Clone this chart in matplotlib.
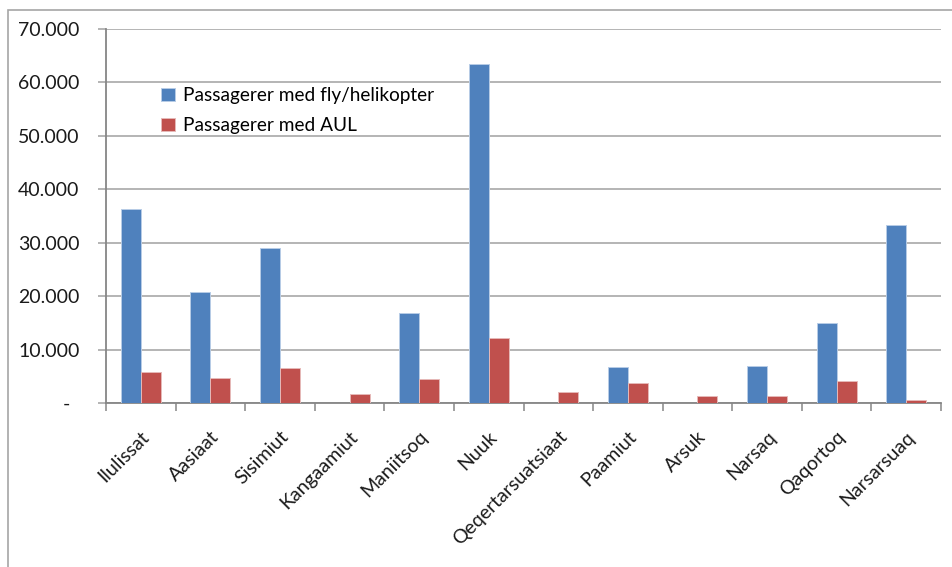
import matplotlib
matplotlib.use("Agg")
import matplotlib.pyplot as plt
import numpy as np
from matplotlib.patches import Rectangle
from matplotlib.transforms import ScaledTranslation

categories = ["Ilulissat", "Aasiaat", "Sisimiut", "Kangaamiut", "Maniitsoq", "Nuuk",
              "Qeqertarsuatsiaat", "Paamiut", "Arsuk", "Narsaq", "Qaqortoq", "Narsarsuaq"]
fly = [36400, 20800, 29000, 0, 16900, 63400, 0, 6800, 0, 7000, 14900, 33400]
aul = [5800, 4750, 6500, 1600, 4550, 12250, 2050, 3800, 1300, 1300, 4050, 600]
series_names = ["Passagerer med fly/helikopter", "Passagerer med AUL"]
yticks = [0, 10000, 20000, 30000, 40000, 50000, 60000, 70000]
ytick_labels = ["-", "10.000", "20.000", "30.000", "40.000", "50.000", "60.000", "70.000"]

plt.rcParams['font.family'] = ['Lato', 'DejaVu Sans']

fig = plt.figure(figsize=(9.52, 5.67), dpi=100)
W, H = 952, 567
ax = fig.add_axes([106 / W, 1 - 403 / H, (941 - 106) / W, (403 - 29) / H])

# outer chart frame
fig.patches.append(Rectangle((8 / W, -0.1), 1.2, (H - 10) / H + 0.1, transform=fig.transFigure,
                             fill=False, edgecolor="#A6A6A6", linewidth=1.2))

x = np.arange(len(categories))
bw = 0.287
blue = "#4F81BD"
red = "#C0504D"
ax.bar(x - bw / 2, fly, bw, color=blue, edgecolor="#B7CCE6", linewidth=0.7, label=series_names[0], zorder=3)
ax.bar(x + bw / 2, aul, bw, color=red, edgecolor="#E6B9B8", linewidth=0.7, label=series_names[1], zorder=3)

fs = 14
ax.set_xlim(-0.5, len(categories) - 0.5)
ax.set_ylim(0, 70000)
ax.set_yticks(yticks)
ax.set_yticklabels(ytick_labels, fontsize=fs, color="#1a1a1a")
ax.yaxis.grid(True, color="#A0A0A0", linewidth=1.1, zorder=0)
ax.set_axisbelow(True)

ax.set_xticks(x)
ax.set_xticklabels(categories, rotation=45, ha="right", va="top", rotation_mode="anchor",
                   fontsize=fs, color="#1a1a1a")
ax.tick_params(axis="x", length=0, pad=18)
ax.set_xticks(np.arange(-0.5, len(categories) + 0.5, 1), minor=True)
ax.tick_params(axis="x", which="minor", length=6, color="#868686", width=1.1, direction="out")
ax.tick_params(axis="y", length=6, color="#A0A0A0", width=1.1, pad=13)

# shift the "-" label left a bit (accounting-style)
lab0 = ax.get_yticklabels()[0]
lab0.set_transform(lab0.get_transform() + ScaledTranslation(-6.5 / 72, 0, fig.dpi_scale_trans))

for s in ["top", "right"]:
    ax.spines[s].set_visible(False)
for s in ["left", "bottom"]:
    ax.spines[s].set_color("#868686")
    ax.spines[s].set_linewidth(1.3)

leg = ax.legend(loc="upper left", bbox_to_anchor=(0.057, 0.864), frameon=False, fontsize=13.7,
                handlelength=0.7, handleheight=0.7, handletextpad=0.45, labelspacing=0.68,
                borderaxespad=0)

fig.savefig("out.png", dpi=100)
